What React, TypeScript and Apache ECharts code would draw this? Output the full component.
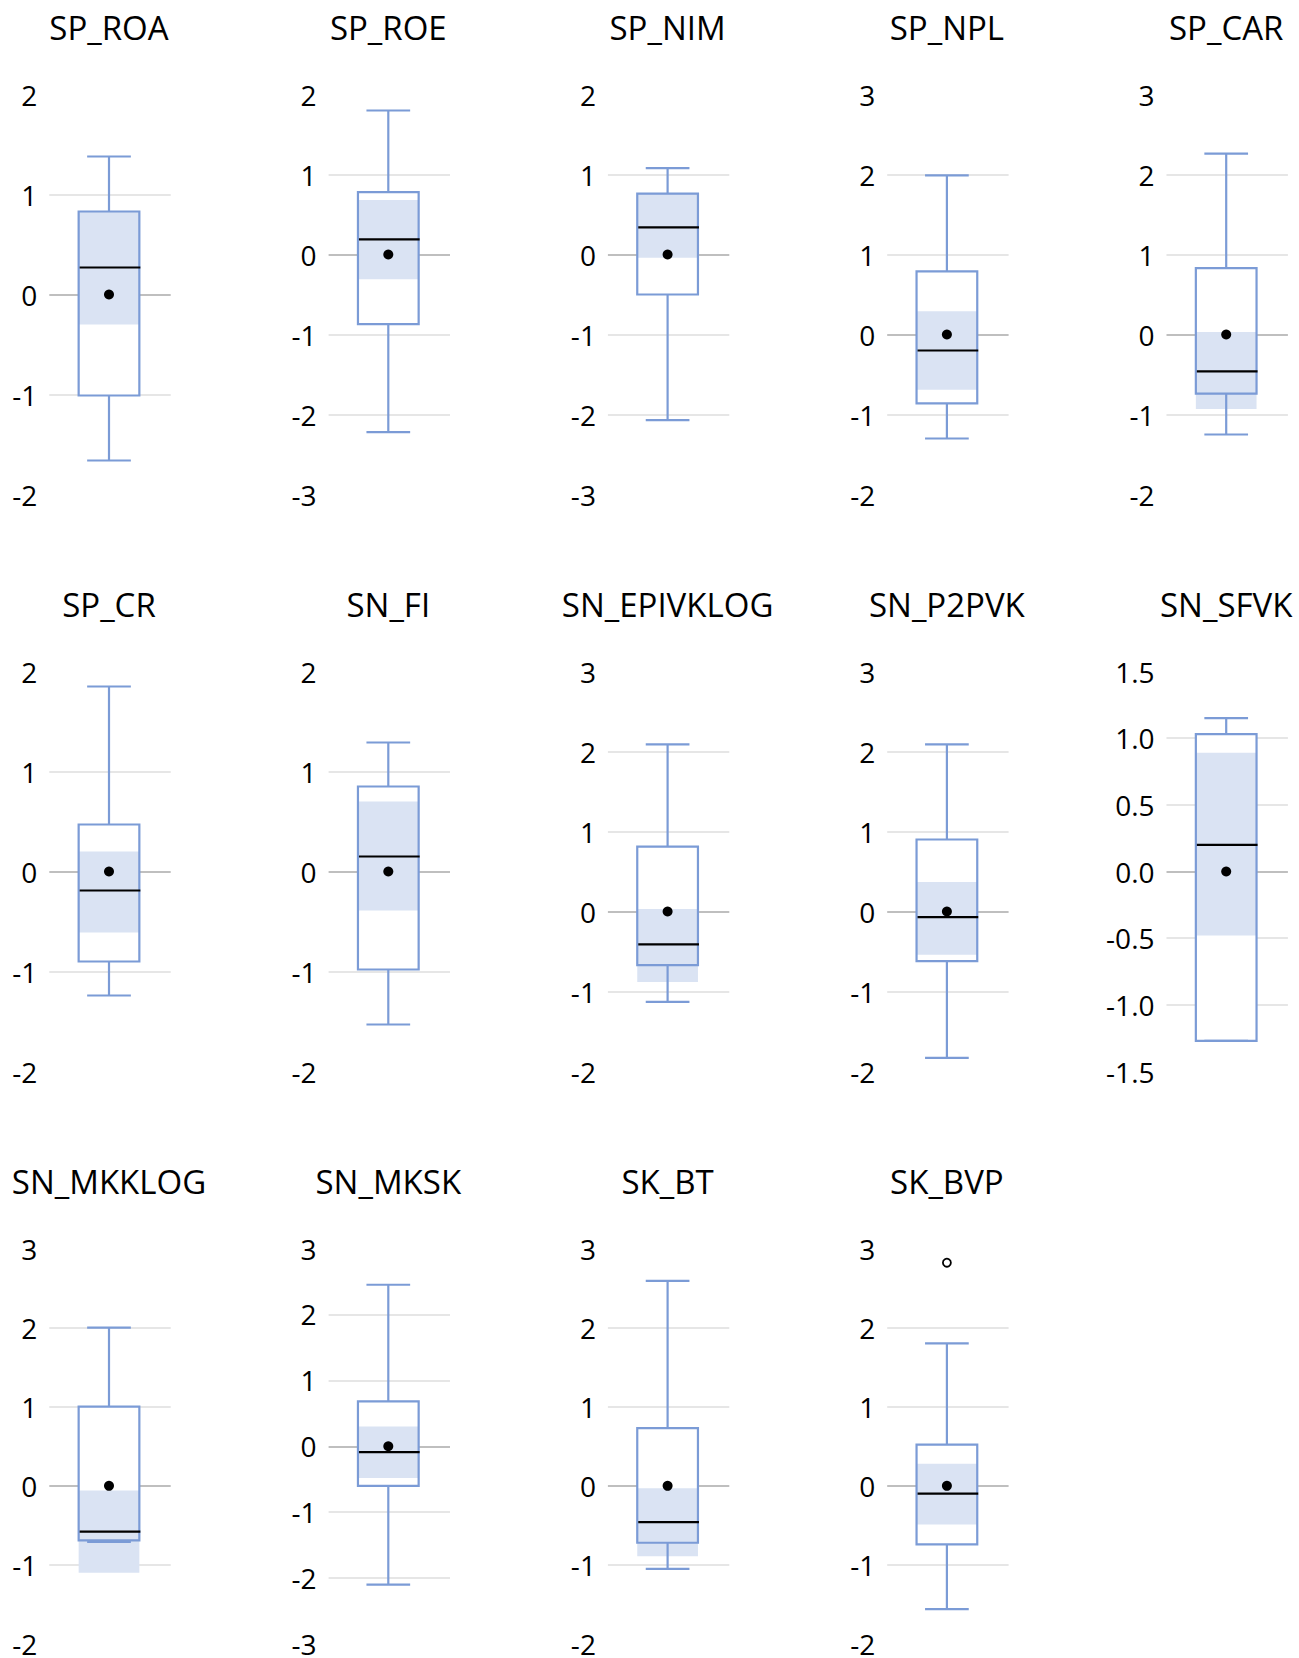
import React, { useEffect, useRef } from "react";
import * as echarts from "echarts";

// ---- data ----
const titles = [
  "SP_ROA", "SP_ROE", "SP_NIM", "SP_NPL", "SP_CAR",
  "SP_CR", "SN_FI", "SN_EPIVKLOG", "SN_P2PVK", "SN_SFVK",
  "SN_MKKLOG", "SN_MKSK", "SK_BT", "SK_BVP",
];
const whiskerLow = [-1.66, -2.22, -2.07, -1.30, -1.25, -1.24, -1.53, -1.13, -1.83, -1.27, -0.71, -2.10, -1.05, -1.56];
const q1 = [-1.01, -0.87, -0.50, -0.86, -0.74, -0.90, -0.98, -0.67, -0.62, -1.27, -0.69, -0.60, -0.72, -0.74];
const median = [0.27, 0.19, 0.34, -0.20, -0.46, -0.19, 0.15, -0.41, -0.07, 0.20, -0.58, -0.09, -0.46, -0.10];
const q3 = [0.83, 0.78, 0.76, 0.79, 0.83, 0.47, 0.85, 0.81, 0.90, 1.03, 1.00, 0.68, 0.73, 0.52];
const whiskerHigh = [1.38, 1.80, 1.08, 1.99, 2.26, 1.85, 1.29, 2.09, 2.09, 1.15, 2.00, 2.45, 2.59, 1.80];
const means = [0, 0, 0, 0, 0, 0, 0, 0, 0, 0, 0, 0, 0, 0];
const bandLow = [-0.30, -0.31, -0.04, -0.69, -0.93, -0.61, -0.39, -0.88, -0.54, -0.48, -1.10, -0.48, -0.89, -0.49];
const bandHigh = [0.83, 0.68, 0.76, 0.29, 0.03, 0.20, 0.70, 0.03, 0.37, 0.89, -0.06, 0.30, -0.03, 0.28];
const outliers: number[][] = [[], [], [], [], [], [], [], [], [], [], [], [], [], [2.82]];
const axisMin = [-2, -3, -3, -2, -2, -2, -2, -2, -2, -1.5, -2, -3, -2, -2];
const axisMax = [2, 2, 2, 3, 3, 2, 2, 3, 3, 1.5, 3, 3, 3, 3];
const axisStep = [1, 1, 1, 1, 1, 1, 1, 1, 1, 0.5, 1, 1, 1, 1];
const labelDecimals = [0, 0, 0, 0, 0, 0, 0, 0, 0, 1, 0, 0, 0, 0];

// ---- layout / style ----
const COL_STEP = 279.3;
const GRID_LEFT0 = 49.3;
const GRID_W = 121.4;
const ROW_TOPS = [94.5, 671.5, 1248.5];
const GRID_H = 400;
const TITLE_Y = [27, 604, 1181];
const FONT = "'Open Sans', 'Liberation Sans', sans-serif";
const BOX_COLOR = "#7B9BD6";
const BAND_COLOR = "#DAE3F3";

export default function App() {
  const ref = useRef<HTMLDivElement>(null);

  useEffect(() => {
    document.body.style.margin = "0";
    const chart = echarts.init(ref.current!, null, { renderer: "svg" });

    const grids: any[] = [];
    const xAxes: any[] = [];
    const yAxes: any[] = [];
    const series: any[] = [];
    const graphics: any[] = [];

    titles.forEach((name, i) => {
      const c = i % 5;
      const r = Math.floor(i / 5);
      const left = GRID_LEFT0 + c * COL_STEP;
      grids.push({ left, top: ROW_TOPS[r], width: GRID_W, height: GRID_H, containLabel: false });
      xAxes.push({
        type: "category",
        gridIndex: i,
        data: [name],
        show: false,
        boundaryGap: true,
      });
      const n = Math.round((axisMax[i] - axisMin[i]) / axisStep[i]) + 1;
      const colors: string[] = [];
      for (let k = 0; k < n; k++) {
        const v = axisMin[i] + k * axisStep[i];
        if (k === 0 || k === n - 1) colors.push("rgba(0,0,0,0)");
        else if (Math.abs(v) < 1e-9) colors.push("#BFBFBF");
        else colors.push("#E6E6E6");
      }
      const dec = labelDecimals[i];
      yAxes.push({
        type: "value",
        gridIndex: i,
        min: axisMin[i],
        max: axisMax[i],
        interval: axisStep[i],
        axisLine: { show: false },
        axisTick: { show: false },
        splitLine: { show: true, lineStyle: { color: colors, width: 2 } },
        axisLabel: {
          show: true,
          showMinLabel: true,
          showMaxLabel: true,
          margin: 12,
          fontSize: 28,
          fontFamily: FONT,
          color: "#000",
          padding: [0, 0, 6, 0],
          formatter: (v: number) => v.toFixed(dec),
        },
      });
      series.push({
        type: "custom",
        xAxisIndex: i,
        yAxisIndex: i,
        z: 2,
        encode: { x: 0, y: [1, 2, 3, 4, 5, 6, 7] },
        data: [[0, whiskerLow[i], q1[i], median[i], q3[i], whiskerHigh[i], bandLow[i], bandHigh[i]]],
        renderItem: (params: any, api: any) => {
          const xv = api.value(0);
          const yOf = (v: number) => api.coord([xv, v])[1];
          const cx = api.coord([xv, 0])[0] - 1;
          const bw = api.size([1, 0])[0] * 0.5;
          const capW = bw * 0.36;
          const yLo = yOf(api.value(1));
          const yQ1 = yOf(api.value(2));
          const yMed = yOf(api.value(3));
          const yQ3 = yOf(api.value(4));
          const yHi = yOf(api.value(5));
          const yBL = yOf(api.value(6));
          const yBH = yOf(api.value(7));
          const line = (x1: number, y1: number, x2: number, y2: number, stroke: string) => ({
            type: "line",
            shape: { x1, y1, x2, y2 },
            style: { stroke, lineWidth: 2.2 },
          });
          return {
            type: "group",
            children: [
              { type: "rect", shape: { x: cx - bw / 2, y: yQ3, width: bw, height: yQ1 - yQ3 }, style: { fill: "#fff" } },
              { type: "rect", shape: { x: cx - bw / 2, y: yBH, width: bw, height: yBL - yBH }, style: { fill: BAND_COLOR } },
              line(cx, yHi, cx, yQ3, BOX_COLOR),
              line(cx, yQ1, cx, yLo, BOX_COLOR),
              line(cx - capW, yHi, cx + capW, yHi, BOX_COLOR),
              line(cx - capW, yLo, cx + capW, yLo, BOX_COLOR),
              {
                type: "rect",
                shape: { x: cx - bw / 2, y: yQ3, width: bw, height: yQ1 - yQ3 },
                style: { fill: "none", stroke: BOX_COLOR, lineWidth: 2.2 },
              },
              line(cx - bw / 2 + 1, yMed, cx + bw / 2 + 1, yMed, "#000"),
            ],
          };
        },
      });
      series.push({
        type: "scatter",
        xAxisIndex: i,
        yAxisIndex: i,
        z: 3,
        symbol: "circle",
        symbolSize: 10,
        symbolOffset: [-1, 0],
        itemStyle: { color: "#000", opacity: 1 },
        data: [[0, means[i]]],
      });
      if (outliers[i].length) {
        series.push({
          type: "scatter",
          xAxisIndex: i,
          yAxisIndex: i,
          z: 3,
          symbol: "circle",
          symbolSize: 8,
          symbolOffset: [-1, 0],
          itemStyle: { color: "#fff", borderColor: "#000", borderWidth: 1.8, opacity: 1 },
          data: outliers[i].map((v) => [0, v]),
        });
      }
      graphics.push({
        type: "text",
        x: left + GRID_W / 2 - 1,
        y: TITLE_Y[r],
        style: {
          text: name,
          fontSize: 33,
          fontFamily: FONT,
          fill: "#000",
          align: "center",
          verticalAlign: "middle",
        },
      });
    });

    chart.setOption({
      animation: false,
      backgroundColor: "#fff",
      grid: grids,
      xAxis: xAxes,
      yAxis: yAxes,
      series,
      graphic: graphics,
    });

    return () => chart.dispose();
  }, []);

  return <div ref={ref} style={{ width: 1299, height: 1658 }} />;
}
